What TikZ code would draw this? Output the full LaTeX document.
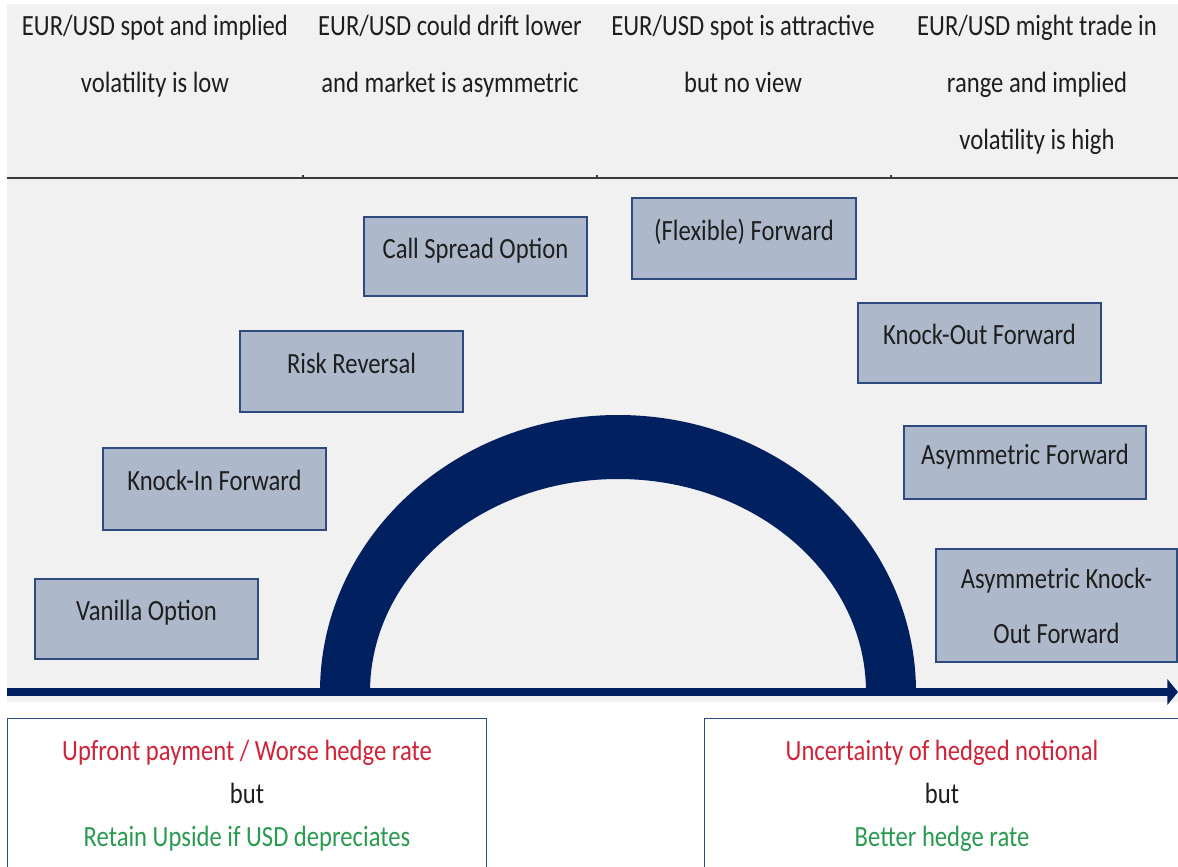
\documentclass[tikz,border=0pt]{standalone}
\usepackage{fontspec}
\setmainfont{Carlito}[FakeStretch=0.84]
\usetikzlibrary{arrows.meta}
\definecolor{navy}{HTML}{002060}
\definecolor{boxfill}{HTML}{ADB9CA}
\definecolor{boxline}{HTML}{2F4A7F}
\definecolor{txt}{HTML}{1E1E1E}
\definecolor{redtxt}{HTML}{D02238}
\definecolor{greentxt}{HTML}{2A9A52}
\definecolor{bggray}{HTML}{F1F1F1}
\definecolor{hdrline}{HTML}{3A3A3A}
\newcommand{\mlines}[1]{\begin{tabular}[t]{@{}c@{}}#1\end{tabular}}
\begin{document}
\begin{tikzpicture}[x=0.75pt,y=-0.75pt,
  every node/.style={font=\fontsize{22}{42.75}\selectfont, text=txt},
  prodbox/.style={draw=boxline, fill=boxfill, line width=1.1pt, inner sep=0pt,
    text height=0.75em, text depth=0.5em},
  prodbox2/.style={draw=boxline, fill=boxfill, line width=1.1pt, inner sep=0pt,
    align=center, font=\fontsize{22}{41.25}\selectfont},
  notebox/.style={draw=boxline, line width=1.1pt, anchor=north west, inner sep=0pt},
  notetext/.style={anchor=base, inner sep=0pt, font=\fontsize{22}{32.6}\selectfont},
  hdr/.style={anchor=base, inner sep=0pt}
]
\useasboundingbox (0,0) rectangle (1178,867);
\clip (0,0) rectangle (1178,867);
\fill[white] (0,0) rectangle (1178,867);
\fill[bggray] (7,4) rectangle (1178,702);

% header
\coordinate (hl1) at (7,178);
\coordinate (hl2) at (1178,178);
\draw[hdrline, line width=1.5pt] (hl1) -- (hl2);
\foreach \xx in {303,597,891} {\draw[hdrline, line width=0.8pt] (\xx,175) -- (\xx,178);}

\node[hdr] (h1) at (155,36) {\mlines{EUR/USD spot and implied\\volatility is low}};
\node[hdr] (h2) at (450,36) {\mlines{EUR/USD could drift lower\\and market is asymmetric}};
\node[hdr] (h3) at (743,36) {\mlines{EUR/USD spot is attractive\\but no view}};
\node[hdr] (h4) at (1037,36) {\mlines{EUR/USD might trade in\\range and implied\\volatility is high}};

% arc
\fill[navy] (320,692) arc[start angle=180,end angle=0,x radius=223.5pt,y radius=207.75pt]
  -- (866,692) arc[start angle=0,end angle=180,x radius=186pt,y radius=159.75pt] -- cycle;

% axis arrow
\coordinate (axs) at (7,692);
\coordinate (axe) at (1178,692);
\draw[navy, line width=6pt, -{Triangle[length=8pt,width=19pt]}] (axs) -- (axe);

% product boxes
\node[prodbox, minimum width=223*0.75pt, minimum height=79*0.75pt] (cso) at (475.5,256.5) {Call Spread Option};
\node[prodbox, minimum width=224*0.75pt, minimum height=81*0.75pt] (ff) at (744,238.5) {(Flexible) Forward};
\node[prodbox, minimum width=223*0.75pt, minimum height=81*0.75pt] (rr) at (351.5,371.5) {Risk Reversal};
\node[prodbox, minimum width=243*0.75pt, minimum height=80*0.75pt] (kof) at (979.5,343) {Knock-Out Forward};
\node[prodbox, minimum width=223*0.75pt, minimum height=82*0.75pt] (kif) at (214.5,489) {Knock-In Forward};
\node[prodbox, minimum width=242*0.75pt, minimum height=73*0.75pt] (af) at (1025,462.5) {Asymmetric Forward};
\node[prodbox, minimum width=223*0.75pt, minimum height=80*0.75pt] (vo) at (146.5,619) {Vanilla Option};
\node[prodbox2, minimum width=241*0.75pt, minimum height=113*0.75pt] (akof) at (1056.5,605.5) {Asymmetric Knock-\\Out Forward};

% bottom notes
\node[notebox, minimum width=479*0.75pt, minimum height=200*0.75pt] (lbox) at (7,718) {};
\node[notebox, minimum width=480*0.75pt, minimum height=200*0.75pt] (rbox) at (704,718) {};
\node[notetext] (ltext) at (247,760) {\mlines{\textcolor{redtxt}{Upfront payment / Worse hedge rate}\\but\\\textcolor{greentxt}{Retain Upside if USD depreciates}}};
\node[notetext] (rtext) at (942,760) {\mlines{\textcolor{redtxt}{Uncertainty of hedged notional}\\but\\\textcolor{greentxt}{Better hedge rate}}};
\end{tikzpicture}
\end{document}
